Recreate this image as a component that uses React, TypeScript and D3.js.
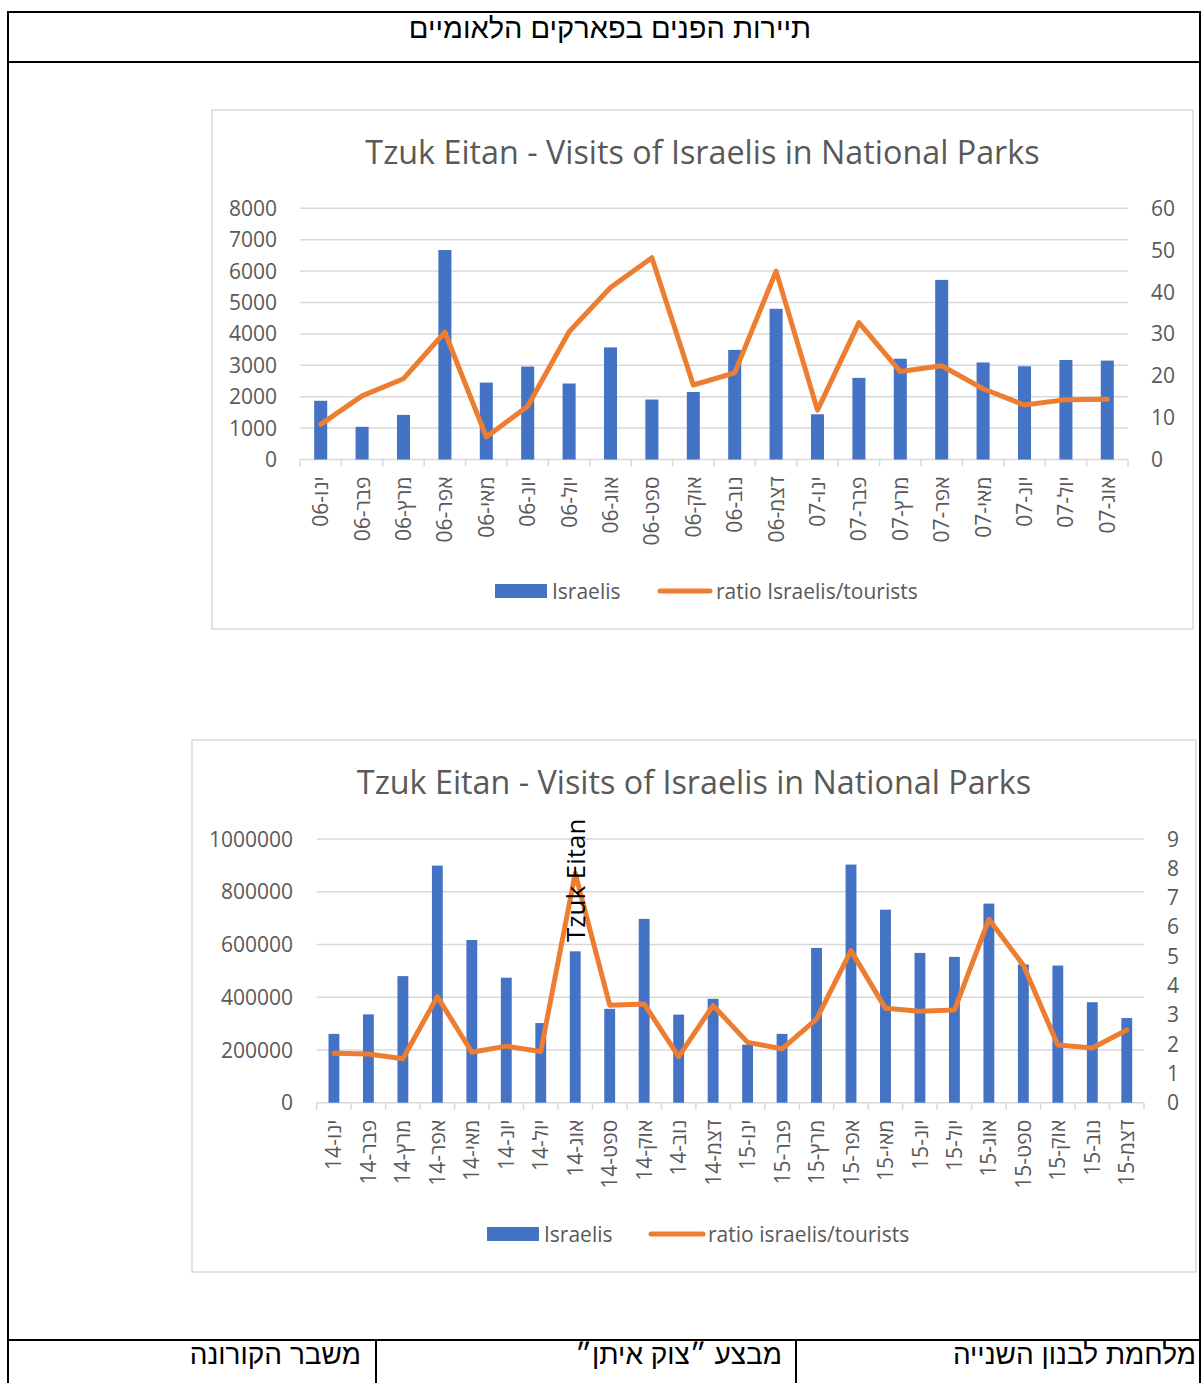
import React from "react";
import * as d3 from "d3";

const months0607 = ["ינו-06", "פבר-06", "מרץ-06", "אפר-06", "מאי-06", "יונ-06", "יול-06", "אוג-06", "ספט-06", "אוק-06", "נוב-06", "דצמ-06", "ינו-07", "פבר-07", "מרץ-07", "אפר-07", "מאי-07", "יונ-07", "יול-07", "אוג-07"];
const israelis0607 = [1870, 1040, 1420, 6670, 2450, 2960, 2420, 3570, 1910, 2150, 3490, 4800, 1440, 2600, 3210, 5720, 3090, 2970, 3170, 3150];
const ratio0607 = [8.4, 15.2, 19.3, 30.4, 5.4, 12.7, 30.5, 41.1, 48.2, 17.8, 20.7, 45.0, 11.8, 32.7, 21.0, 22.4, 16.9, 13.0, 14.3, 14.4];
const leftTicks0607 = [0, 1000, 2000, 3000, 4000, 5000, 6000, 7000, 8000];
const rightTicks0607 = [0, 10, 20, 30, 40, 50, 60];

const months1415 = ["ינו-14", "פבר-14", "מרץ-14", "אפר-14", "מאי-14", "יונ-14", "יול-14", "אוג-14", "ספט-14", "אוק-14", "נוב-14", "דצמ-14", "ינו-15", "פבר-15", "מרץ-15", "אפר-15", "מאי-15", "יונ-15", "יול-15", "אוג-15", "ספט-15", "אוק-15", "נוב-15", "דצמ-15"];
const israelis1415 = [261000, 335000, 480000, 899000, 617000, 474000, 302000, 574000, 356000, 697000, 334000, 394000, 220000, 261000, 587000, 903000, 732000, 568000, 553000, 755000, 524000, 520000, 381000, 321000];
const ratio1415 = [1.69, 1.66, 1.5, 3.62, 1.72, 1.93, 1.75, 7.83, 3.33, 3.37, 1.57, 3.32, 2.06, 1.84, 2.85, 5.19, 3.22, 3.12, 3.16, 6.26, 4.69, 1.97, 1.87, 2.48];
const leftTicks1415 = [0, 200000, 400000, 600000, 800000, 1000000];
const rightTicks1415 = [0, 1, 2, 3, 4, 5, 6, 7, 8, 9];

const chartTitle = "Tzuk Eitan - Visits of Israelis in National Parks";
const pageTitle = "תיירות הפנים בפארקים הלאומיים";
const footerCells = ["משבר הקורונה", "מבצע ״צוק איתן״", "מלחמת לבנון השנייה"];

const FONT = "'Open Sans', 'DejaVu Sans', sans-serif";
const HEB = "'Liberation Sans', Arial, 'DejaVu Sans', sans-serif";
const GRAY = "#595959";
const GRID = "#d9d9d9";
const BLUE = "#4472C4";
const ORANGE = "#ED7D31";

type ChartProps = {
  box: { x: number; y: number; w: number; h: number };
  plot: { x0: number; x1: number; yb: number; yt: number };
  cats: string[];
  bars: number[];
  line: number[];
  leftTicks: number[];
  rightTicks: number[];
  leftLabelX: number;
  rightLabelX: number;
  legend: { rx: number; ry: number; tx1: number; lx0: number; lx1: number; tx2: number; label2: string };
  annotation?: { index: number; text: string };
};

function Chart(p: ChartProps) {
  const x = d3.scaleBand<string>().domain(p.cats).range([p.plot.x0, p.plot.x1]).paddingInner(0.685).paddingOuter(0.3425);
  const step = x.step();
  const yl = d3.scaleLinear().domain([0, p.leftTicks[p.leftTicks.length - 1]]).range([p.plot.yb, p.plot.yt]);
  const yr = d3.scaleLinear().domain([0, p.rightTicks[p.rightTicks.length - 1]]).range([p.plot.yb, p.plot.yt]);
  const cx = (c: string) => (x(c) as number) + x.bandwidth() / 2;
  const lineGen = d3.line<number>().x((_, i) => cx(p.cats[i])).y((d) => yr(d));
  const boundaries = d3.range(p.cats.length + 1).map((i) => p.plot.x0 + i * step);
  const titleX = p.box.x + p.box.w / 2;
  const legendY = p.legend.ry + 7;
  return (
    <g>
      <rect x={p.box.x} y={p.box.y} width={p.box.w} height={p.box.h} fill="#fff" stroke={GRID} strokeWidth={1.5} />
      <text x={titleX} y={p.box.y + 54} textAnchor="middle" fontFamily={FONT} fontSize={32.3} fill={GRAY}>{chartTitle}</text>
      {p.leftTicks.map((t) => (
        <g key={"g" + t}>
          <line x1={p.plot.x0} x2={p.plot.x1} y1={yl(t)} y2={yl(t)} stroke={GRID} strokeWidth={1.5} />
          <text x={p.leftLabelX} y={yl(t)} dy="0.36em" textAnchor="end" fontFamily={FONT} fontSize={21} fill={GRAY}>{t}</text>
        </g>
      ))}
      {p.rightTicks.map((t) => (
        <text key={"r" + t} x={p.rightLabelX} y={yr(t)} dy="0.36em" textAnchor="start" fontFamily={FONT} fontSize={21} fill={GRAY}>{t}</text>
      ))}
      {p.bars.map((v, i) => (
        <rect key={"b" + i} x={x(p.cats[i])} y={yl(v)} width={x.bandwidth()} height={p.plot.yb - yl(v)} fill={BLUE} />
      ))}
      {boundaries.map((bx, i) => (
        <line key={"t" + i} x1={bx} x2={bx} y1={p.plot.yb} y2={p.plot.yb + 7} stroke={GRID} strokeWidth={1.5} />
      ))}
      {p.cats.map((c) => (
        <text key={"c" + c} transform={`translate(${cx(c)},${p.plot.yb + 17}) rotate(-90)`} dy="0.36em" textAnchor="end" fontFamily={FONT} fontSize={21} fill={GRAY}>{c}</text>
      ))}
      <path d={lineGen(p.line) || ""} fill="none" stroke={ORANGE} strokeWidth={5} strokeLinejoin="round" strokeLinecap="round" />
      {p.annotation && (
        <text transform={`translate(${cx(p.cats[p.annotation.index])},${yr(p.line[p.annotation.index]) + 7}) rotate(-90)`} dy="0.36em" textAnchor="middle" fontFamily={FONT} fontSize={26} fill="#000">{p.annotation.text}</text>
      )}
      <rect x={p.legend.rx} y={p.legend.ry} width={52} height={14} fill={BLUE} />
      <text x={p.legend.tx1} y={legendY} dy="0.36em" fontFamily={FONT} fontSize={21} fill={GRAY}>Israelis</text>
      <line x1={p.legend.lx0} x2={p.legend.lx1} y1={legendY} y2={legendY} stroke={ORANGE} strokeWidth={5} strokeLinecap="round" />
      <text x={p.legend.tx2} y={legendY} dy="0.36em" fontFamily={FONT} fontSize={21} fill={GRAY}>{p.legend.label2}</text>
    </g>
  );
}

export default function App() {
  return (
    <div style={{ position: "absolute", left: 0, top: 0 }}>
      <svg width={1201} height={1383} style={{ display: "block", background: "#fff" }}>
        <rect x={0} y={0} width={1201} height={1383} fill="#fff" />
        {/* table */}
        <g stroke="#000" strokeWidth={2}>
          <line x1={8} x2={8} y1={11} y2={1383} />
          <line x1={1200} x2={1200} y1={11} y2={1383} />
          <line x1={7} x2={1201} y1={12} y2={12} />
          <line x1={7} x2={1201} y1={62} y2={62} />
          <line x1={7} x2={1201} y1={1340} y2={1340} />
          <line x1={376} x2={376} y1={1340} y2={1383} />
          <line x1={796} x2={796} y1={1340} y2={1383} />
        </g>
        <text x={610} y={38} textAnchor="middle" fontFamily={HEB} fontSize={29} fill="#000">{pageTitle}</text>
        <text x={361} y={1364} textAnchor="end" fontFamily={HEB} fontSize={28} fill="#000">{footerCells[0]}</text>
        <text x={782} y={1364} textAnchor="end" fontFamily={HEB} fontSize={28} fill="#000">{footerCells[1]}</text>
        <text x={1196} y={1364} textAnchor="end" fontFamily={HEB} fontSize={28} fill="#000">{footerCells[2]}</text>

        <Chart
          box={{ x: 212, y: 110, w: 981, h: 519 }}
          plot={{ x0: 300, x1: 1128, yb: 459.5, yt: 208.3 }}
          cats={months0607}
          bars={israelis0607}
          line={ratio0607}
          leftTicks={leftTicks0607}
          rightTicks={rightTicks0607}
          leftLabelX={277}
          rightLabelX={1151}
          legend={{ rx: 495, ry: 584, tx1: 552, lx0: 660, lx1: 710, tx2: 716, label2: "ratio Israelis/tourists" }}
        />
        <Chart
          box={{ x: 192, y: 740, w: 1004, h: 532 }}
          plot={{ x0: 316.7, x1: 1144, yb: 1102.7, yt: 839 }}
          cats={months1415}
          bars={israelis1415}
          line={ratio1415}
          leftTicks={leftTicks1415}
          rightTicks={rightTicks1415}
          leftLabelX={293}
          rightLabelX={1167}
          legend={{ rx: 487, ry: 1227, tx1: 544, lx0: 651, lx1: 703, tx2: 708, label2: "ratio israelis/tourists" }}
          annotation={{ index: 7, text: "Tzuk Eitan" }}
        />
      </svg>
    </div>
  );
}
